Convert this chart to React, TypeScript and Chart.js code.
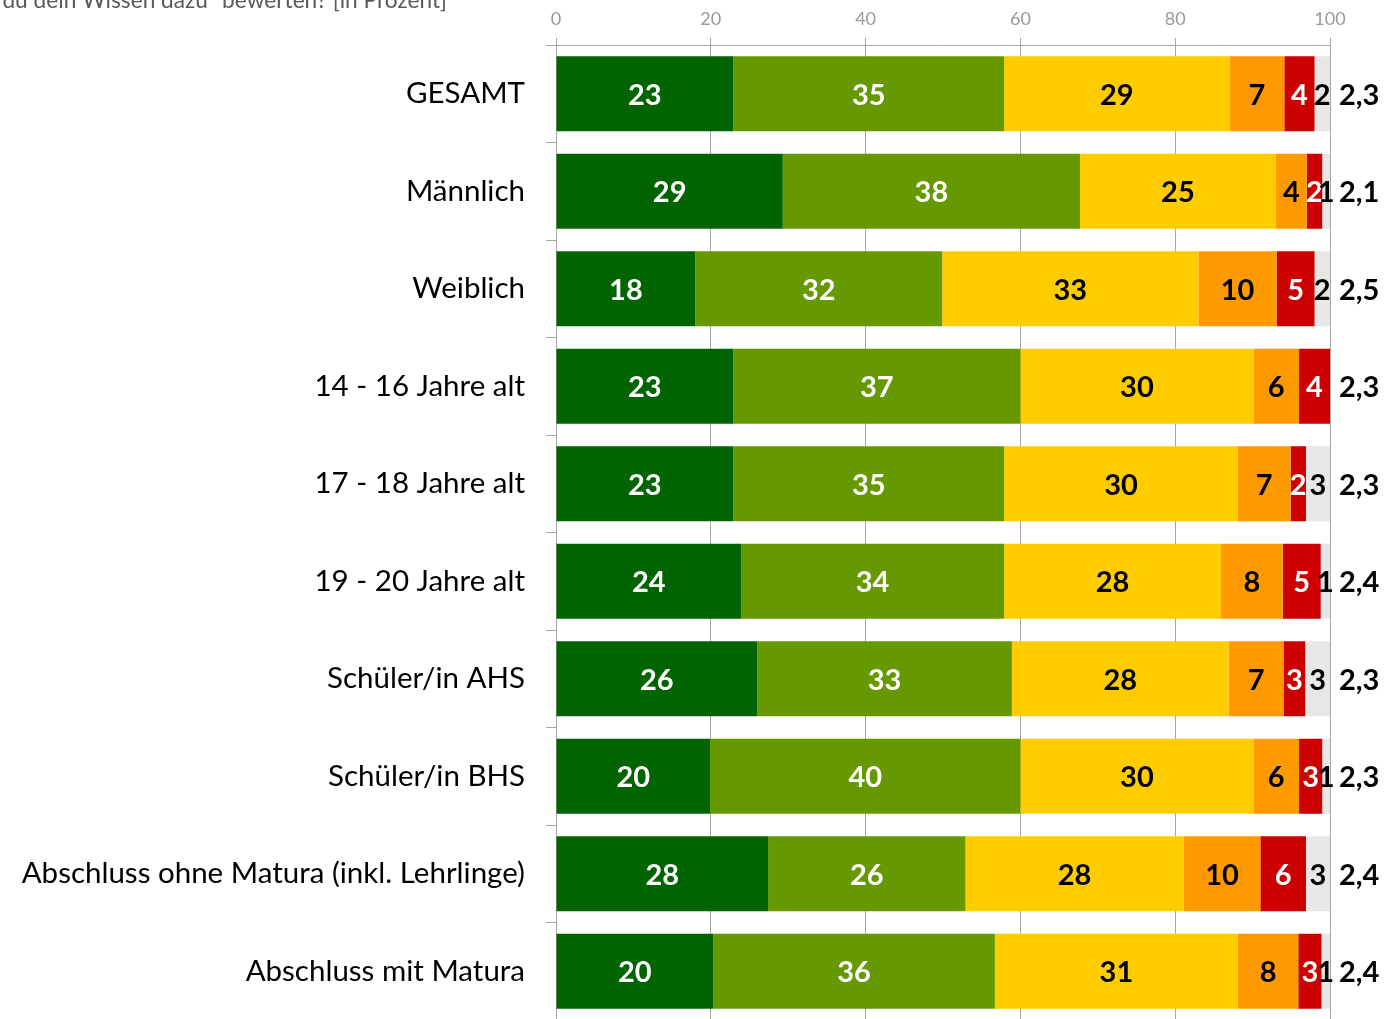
import React, { useEffect, useRef } from "react";
import { Chart, registerables } from "chart.js";

Chart.register(...registerables);

const categories = [
  "GESAMT",
  "Männlich",
  "Weiblich",
  "14 - 16 Jahre alt",
  "17 - 18 Jahre alt",
  "19 - 20 Jahre alt",
  "Schüler/in AHS",
  "Schüler/in BHS",
  "Abschluss ohne Matura (inkl. Lehrlinge)",
  "Abschluss mit Matura",
];

// segment widths (percent)
const grade1 = [22.9, 29.3, 18.0, 22.9, 22.9, 23.9, 26.0, 19.9, 27.4, 20.3];
const grade2 = [35.0, 38.4, 31.9, 37.1, 35.0, 34.0, 32.9, 40.1, 25.5, 36.4];
const grade3 = [29.1, 25.3, 33.1, 30.1, 30.2, 28.0, 28.0, 30.1, 28.2, 31.4];
const grade4 = [7.1, 4.0, 10.1, 5.9, 6.8, 8.0, 7.1, 5.9, 9.9, 7.8];
const grade5 = [3.9, 2.0, 4.9, 4.0, 2.0, 4.9, 2.8, 3.0, 5.9, 3.0];
const noAnswer = [2.0, 1.0, 2.0, 0, 3.1, 1.2, 3.2, 1.0, 3.1, 1.1];

// printed value labels
const label1 = ["23", "29", "18", "23", "23", "24", "26", "20", "28", "20"];
const label2 = ["35", "38", "32", "37", "35", "34", "33", "40", "26", "36"];
const label3 = ["29", "25", "33", "30", "30", "28", "28", "30", "28", "31"];
const label4 = ["7", "4", "10", "6", "7", "8", "7", "6", "10", "8"];
const label5 = ["4", "2", "5", "4", "2", "5", "3", "3", "6", "3"];
const labelNA = ["2", "1", "2", "", "3", "1", "3", "1", "3", "1"];

const means = ["2,3", "2,1", "2,5", "2,3", "2,3", "2,4", "2,3", "2,3", "2,4", "2,4"];

const xTicks = [0, 20, 40, 60, 80, 100];

const titleText = "Wie würdest du dein Wissen dazu“ bewerten? [in Prozent]";

const FONT = "Lato, 'Open Sans', sans-serif";

export default function App() {
  const ref = useRef<HTMLCanvasElement | null>(null);

  useEffect(() => {
    if (!ref.current) return;
    const series = [grade1, grade2, grade3, grade4, grade5, noAnswer];
    const labels = [label1, label2, label3, label4, label5, labelNA];
    const colors = ["#006400", "#669900", "#FFCC00", "#FF9900", "#CC0000", "#E7E7E7"];
    const textColors = ["#ffffff", "#ffffff", "#000000", "#000000", "#ffffff", "#000000"];
    const names = ["1", "2", "3", "4", "5", "k.A."];

    const labelPlugin = {
      id: "segmentLabels",
      afterDatasetsDraw(chart: any) {
        const ctx = chart.ctx;
        ctx.save();
        ctx.font = `bold 29px ${FONT}`;
        ctx.textAlign = "center";
        ctx.textBaseline = "middle";
        chart.data.datasets.forEach((ds: any, i: number) => {
          const meta = chart.getDatasetMeta(i);
          meta.data.forEach((bar: any, j: number) => {
            const v = ds.data[j];
            if (!v) return;
            const p = bar.getProps(["x", "y", "base"], true);
            ctx.fillStyle = textColors[i];
            ctx.fillText(labels[i][j], (p.x + p.base) / 2, p.y + 1.5);
          });
        });
        // means at the right
        const meta0 = chart.getDatasetMeta(0);
        ctx.fillStyle = "#000000";
        ctx.textAlign = "left";
        meta0.data.forEach((bar: any, j: number) => {
          const p = bar.getProps(["y"], true);
          ctx.fillText(means[j], chart.chartArea.right + 9, p.y + 1.5);
        });
        // partially visible title
        ctx.font = `22.7px ${FONT}`;
        ctx.fillStyle = "#595959";
        ctx.textAlign = "right";
        ctx.textBaseline = "alphabetic";
        ctx.fillText(titleText, 447, 8);
        ctx.restore();
      },
    };

    const zeroPad = (scale: any) => {
      scale.paddingTop = 0;
      scale.paddingBottom = 0;
      scale.paddingLeft = 0;
      scale.paddingRight = 0;
    };

    const chart = new Chart(ref.current, {
      type: "bar",
      data: {
        labels: categories,
        datasets: series.map((d, i) => ({
          label: names[i],
          data: d,
          backgroundColor: colors[i],
          borderWidth: 0,
          categoryPercentage: 1,
          barPercentage: 0.77,
        })),
      },
      options: {
        indexAxis: "y",
        animation: false,
        responsive: false,
        layout: { padding: { left: 0, right: 57, top: 0, bottom: 5 } },
        plugins: {
          legend: { display: false },
          tooltip: { enabled: false },
          title: { display: false },
        },
        scales: {
          x: {
            type: "linear",
            position: "top",
            stacked: true,
            min: 0,
            max: 100,
            afterBuildTicks(scale: any) {
              scale.ticks = xTicks.map((v) => ({ value: v }));
            },
            afterFit(scale: any) {
              scale.height = 45;
              zeroPad(scale);
            },
            grid: {
              color: "#A6A6A6",
              tickColor: "#A6A6A6",
              tickLength: 7,
              lineWidth: 1,
            },
            border: { display: true, color: "#A6A6A6" },
            ticks: {
              color: "#9A9A9A",
              padding: 8,
              font: { family: FONT, size: 18 },
            },
          },
          y: {
            type: "category",
            stacked: true,
            afterFit(scale: any) {
              scale.width = 556;
              zeroPad(scale);
            },
            grid: {
              display: true,
              drawOnChartArea: false,
              offset: true,
              tickLength: 10,
              color: "#A6A6A6",
            },
            border: { display: true, color: "#A6A6A6" },
            ticks: {
              color: "#000000",
              padding: 21,
              font: { family: FONT, size: 29.5 },
            },
          },
        },
      },
      plugins: [labelPlugin],
    } as any);

    return () => chart.destroy();
  }, []);

  return (
    <div style={{ position: "fixed", left: 0, top: 0, width: 1387, height: 1025, background: "#ffffff" }}>
      <canvas ref={ref} width={1387} height={1025} style={{ display: "block" }} />
    </div>
  );
}
